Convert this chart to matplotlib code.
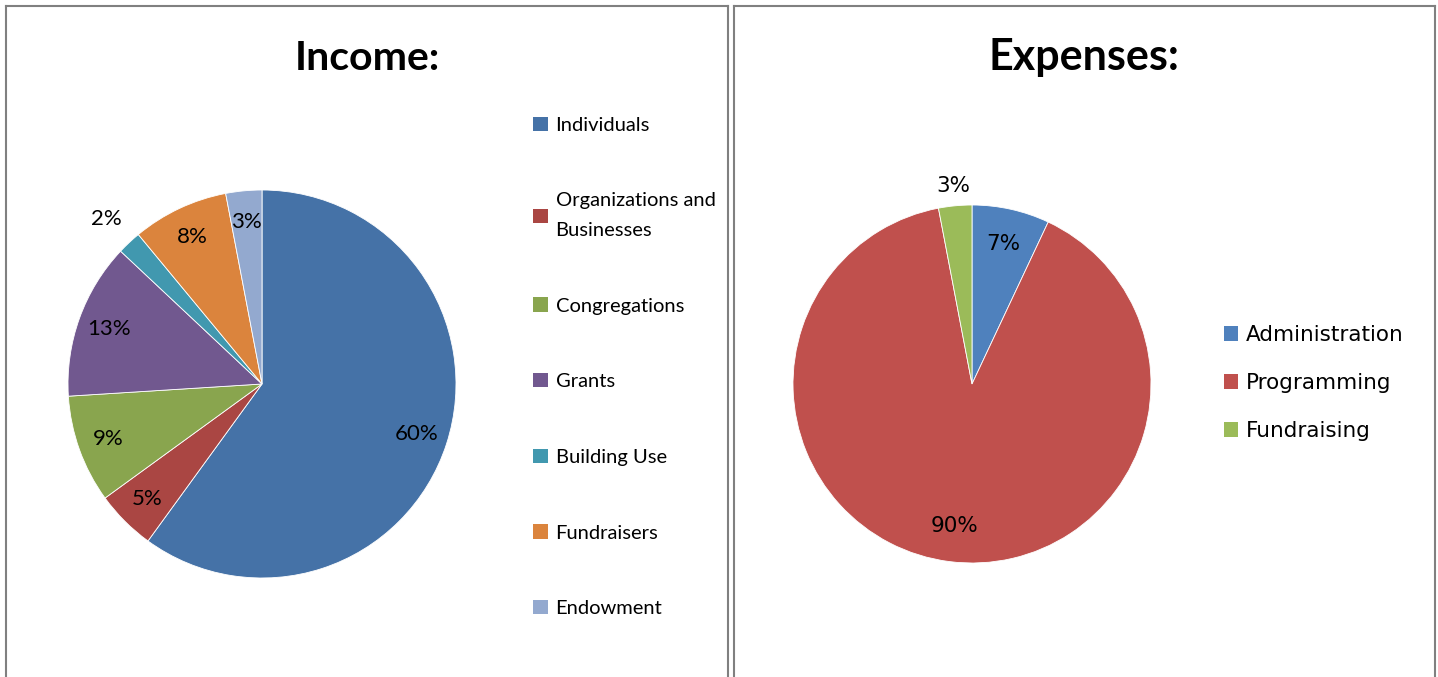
import numpy as np
import matplotlib
matplotlib.use("Agg")
import matplotlib.pyplot as plt
from matplotlib.patches import Patch
from matplotlib.lines import Line2D

# Income data
income_labels = ['Individuals', 'Organizations and\nBusinesses', 'Congregations', 'Grants',
                 'Building Use', 'Fundraisers', 'Endowment']
income_values = [60, 5, 9, 13, 2, 8, 3]
income_colors = ['#4572A7', '#AA4643', '#89A54E', '#71588F', '#4198AF', '#DB843D', '#93A9CF']

# Expenses data
expense_labels = ['Administration', 'Programming', 'Fundraising']
expense_values = [7, 90, 3]
expense_colors = ['#4F81BD', '#C0504D', '#9BBB59']

W, H = 1438, 677
fig = plt.figure(figsize=(W / 100, H / 100), dpi=100)
fig.patch.set_facecolor('white')

narrow = ['Lato', 'DejaVu Sans']
title_font = ['Lato', 'DejaVu Sans']


def px_axes(cx, cy, r):
    # axes box in pixel coords (y from top)
    return fig.add_axes([(cx - r) / W, (H - cy - r) / H, 2 * r / W, 2 * r / H])


def move_label(wedge, txt, dist):
    ang = np.deg2rad((wedge.theta1 + wedge.theta2) / 2)
    txt.set_position((dist * np.cos(ang), dist * np.sin(ang)))


# panel borders
for x in [5.5, 727.5, 733.5, 1434.5]:
    fig.add_artist(Line2D([x / W, x / W], [1 - 5.5 / H, -0.1], color='#808080', lw=1.5))
for x0, x1 in [(5.5, 727.5), (733.5, 1434.5)]:
    fig.add_artist(Line2D([x0 / W, x1 / W], [1 - 5.5 / H, 1 - 5.5 / H], color='#808080', lw=1.5))

# ---- Income pie ----
ax1 = px_axes(262, 384, 194)
w1, t1, a1 = ax1.pie(income_values, colors=income_colors, startangle=90, counterclock=False,
                     autopct='%1.0f%%', pctdistance=0.84,
                     wedgeprops=dict(edgecolor='white', linewidth=0.6),
                     textprops=dict(family=narrow, fontsize=16, color='black'))
move_label(w1[4], a1[4], 1.17)
ax1.set_xlim(-1, 1)
ax1.set_ylim(-1, 1)

fig.text(367 / W, 1 - 70 / H, 'Income:', ha='center', va='baseline',
         family=title_font, fontweight='bold', fontsize=29.5)

h1 = [Patch(facecolor=c, edgecolor='none') for c in income_colors]
leg1 = fig.legend(h1, income_labels, loc='center left', bbox_to_anchor=(533 / W, 1 - 367 / H),
                  frameon=False, borderpad=0, borderaxespad=0, handlelength=0.72, handleheight=0.72,
                  handletextpad=0.4, labelspacing=2.9, prop=dict(family=narrow, size=14.5))
for t in leg1.get_texts():
    t.set_linespacing(1.9)

# ---- Expenses pie ----
ax2 = px_axes(972, 384, 179)
w2, t2, a2 = ax2.pie(expense_values, colors=expense_colors, startangle=90, counterclock=False,
                     autopct='%1.0f%%', pctdistance=0.8,
                     wedgeprops=dict(edgecolor='white', linewidth=0.6),
                     textprops=dict(family='DejaVu Sans', fontsize=15.5, color='black'))
move_label(w2[2], a2[2], 1.11)
ax2.set_xlim(-1, 1)
ax2.set_ylim(-1, 1)

fig.text(1084 / W, 1 - 70 / H, 'Expenses:', ha='center', va='baseline',
         family=title_font, fontweight='bold', fontsize=31)

h2 = [Patch(facecolor=c, edgecolor='none') for c in expense_colors]
fig.legend(h2, expense_labels, loc='center left', bbox_to_anchor=(1224 / W, 1 - 383 / H),
           frameon=False, borderpad=0, borderaxespad=0, handlelength=0.65, handleheight=0.65,
           handletextpad=0.38, labelspacing=1.3, prop=dict(family='DejaVu Sans', size=15.5))

fig.savefig('out.png', dpi=100, facecolor='white')
